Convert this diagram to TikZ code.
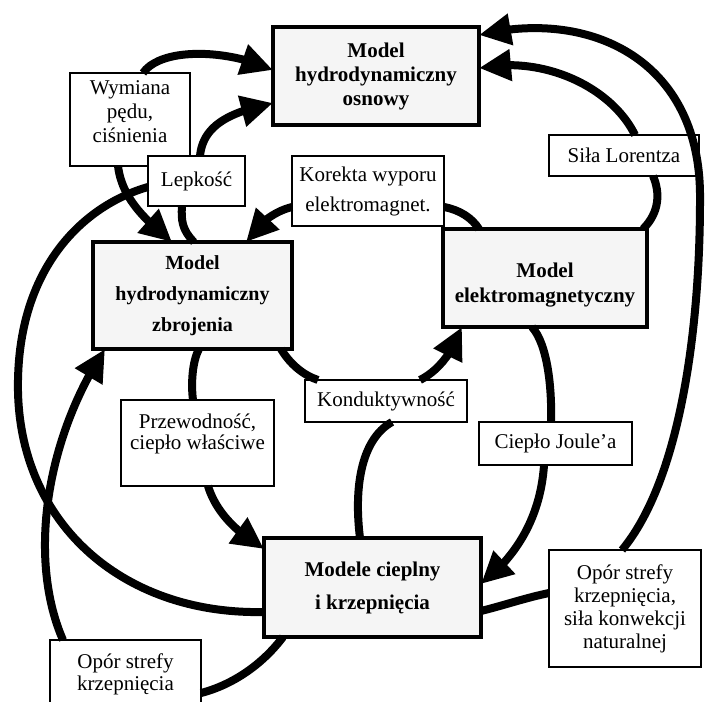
\documentclass[tikz,border=0pt]{standalone}
\usepackage{fontspec}
\setmainfont{Liberation Serif}
\usetikzlibrary{arrows.meta,calc,bending}
\begin{document}
\begin{tikzpicture}[x=1pt,y=-1pt,
  bigbox/.style={draw,line width=4.5pt,fill=black!4,inner sep=0pt,outer sep=0pt,
    font=\bfseries\fontsize{21}{24}\selectfont,align=center},
  lab/.style={draw,line width=1.4pt,fill=white,inner sep=0pt,outer sep=0pt,
    font=\fontsize{21}{24}\selectfont,align=center},
  txt/.style={inner sep=0pt,align=center},
  conn/.style={line width=8pt},
  arr/.style={conn,-{Triangle[length=32pt,width=30pt]}}]
\useasboundingbox (0,0) rectangle (708,701);

% main model boxes
\node[bigbox,minimum width=206pt,minimum height=98pt] (osn) at (376,76) {Model\\hydrodynamiczny\\osnowy};
\node[bigbox,minimum width=199pt,minimum height=107pt,font=\bfseries\fontsize{20}{31}\selectfont] (zbr) at (192.5,295.5) {Model\\hydrodynamiczny\\zbrojenia};
\node[bigbox,minimum width=204pt,minimum height=98pt] (em) at (545,278) {};
\node[txt,font=\bfseries\fontsize{21}{25}\selectfont] (emT) at (545,285) {Model\\elektromagnetyczny};
\node[bigbox,minimum width=217pt,minimum height=99pt,font=\bfseries\fontsize{21}{33}\selectfont] (ciep) at (372.5,587.5) {Modele cieplny\\i krzepnięcia};

% label boxes
\node[lab,minimum width=120pt,minimum height=93pt] (wym) at (130,119.5) {};
\node[txt,font=\fontsize{21}{24}\selectfont] (wymT) at (130,111.5) {Wymiana\\pędu,\\ciśnienia};
\node[lab,minimum width=97pt,minimum height=50pt] (lep) at (196.5,181) {Lepkość};
\node[lab,minimum width=152pt,minimum height=70pt,font=\fontsize{21}{30}\selectfont] (kor) at (368,191) {Korekta wyporu\\elektromagnet.};
\node[lab,minimum width=150pt,minimum height=41pt] (sila) at (624,155.5) {Siła Lorentza};
\node[lab,minimum width=162pt,minimum height=42pt] (kond) at (386,401) {Konduktywność};
\node[lab,minimum width=153pt,minimum height=86pt] (prz) at (197.5,443) {};
\node[txt,font=\fontsize{21}{21}\selectfont] (przT) at (197.5,434) {Przewodność,\\ciepło właściwe};
\node[lab,minimum width=153pt,minimum height=43pt] (joule) at (555.5,443.5) {Ciepło Joule’a};
\node[lab,minimum width=152pt,minimum height=117pt,font=\fontsize{21}{23}\selectfont] (opn) at (625,608.5) {Opór strefy\\krzepnięcia,\\siła konwekcji\\naturalnej};
\node[lab,minimum width=151pt,minimum height=68pt,font=\fontsize{21}{22}\selectfont] (opl) at (125.5,674) {Opór strefy\\krzepnięcia};

% connectors
\draw[arr] ($(wym.north west)+(73,0)$) .. controls (160,48) and (225,48) .. ($(osn.north west)+(0,43)$);
\draw[arr] ($(wym.north west)+(48,93)$) .. controls (122,200) and (148,222) .. ($(zbr.north west)+(79,0)$);
\draw[arr] ($(lep.north west)+(52,0)$) .. controls (203,125) and (230,112) .. ($(osn.north west)+(0,76)$);
\draw[conn] ($(zbr.north west)+(101,0)$) .. controls (182,230) and (181,220) .. ($(lep.north west)+(34,50)$);
\draw[arr] ($(kor.north west)+(0,51)$) .. controls (272,212) and (256,226) .. ($(zbr.north west)+(153,0)$);
\draw[conn] ($(em.north west)+(36,0)$) .. controls (472,218) and (460,210) .. ($(kor.north west)+(152,51)$);
\draw[conn] ($(em.north west)+(200,0)$) .. controls (660,212) and (660,192) .. ($(sila.north west)+(104,41)$);
\draw[arr] ($(sila.north west)+(86,0)$) .. controls (612,88) and (545,55) .. ($(osn.north west)+(206,41)$);
\draw[arr] ($(opn.north west)+(73,0)$) .. controls (680,480) and (700,330) .. (700,200) .. controls (702,60) and (590,8) .. ($(osn.north west)+(206,8)$);
\draw[conn] ($(ciep.north west)+(217,73)$) .. controls (505,605) and (525,598) .. ($(opn.north west)+(0,43)$);
\draw[conn] ($(ciep.north west)+(0,74)$) .. controls (120,615) and (15,520) .. (18,380) .. controls (20,265) and (85,205) .. ($(lep.north west)+(0,31)$);
\draw[conn] ($(ciep.north west)+(19,99)$) .. controls (262,665) and (232,685) .. ($(opl.north west)+(151,53)$);
\draw[arr] ($(opl.north west)+(13,0)$) .. controls (28,560) and (45,440) .. ($(zbr.north west)+(12,107)$);
\draw[conn] ($(zbr.north west)+(106,107)$) .. controls (192,362) and (191,385) .. ($(prz.north west)+(72,0)$);
\draw[arr] ($(prz.north west)+(87,86)$) .. controls (216,512) and (236,532) .. ($(ciep.north west)+(0,11)$);
\draw[conn] ($(zbr.north west)+(188,107)$) .. controls (290,364) and (303,375) .. ($(kond.north west)+(13,0)$);
\draw[arr] ($(kond.north west)+(115,0)$) .. controls (436,372) and (452,355) .. ($(em.north west)+(19,98)$);
\draw[conn] ($(ciep.north west)+(96,0)$) .. controls (354,490) and (360,440) .. ($(kond.north west)+(87,42)$);
\draw[conn] ($(em.north west)+(89,98)$) .. controls (548,345) and (552,390) .. ($(joule.north west)+(72,0)$);
\draw[arr] ($(joule.north west)+(65,43)$) .. controls (541,510) and (522,552) .. ($(ciep.north west)+(217,46)$);
\end{tikzpicture}
\end{document}
